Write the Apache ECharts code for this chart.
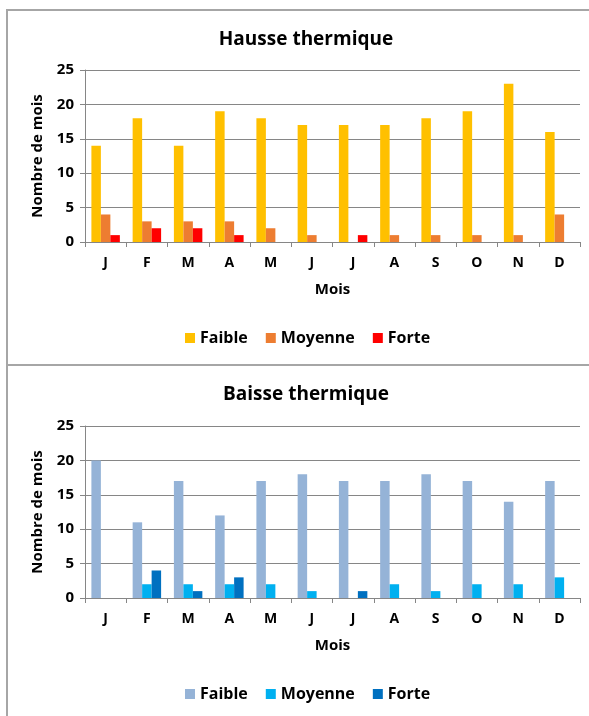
<!DOCTYPE html>
<html>
<head>
<meta charset="utf-8">
<script src="https://cdn.jsdelivr.net/npm/echarts@6/dist/echarts.min.js"></script>
<style>
  html, body { margin: 0; padding: 0; background: #fff; }
  #wrap { position: relative; width: 589px; height: 716px; }
  .chart { position: absolute; left: 0; width: 589px; }
  #hausse { top: 0; height: 364px; }
  #baisse { top: 364px; height: 352px; }
  .line { position: absolute; background: #a6a6a6; }
</style>
</head>
<body>
<div id="wrap">
  <div id="hausse" class="chart"></div>
  <div id="baisse" class="chart"></div>
  <div class="line" style="left:6px;top:9px;width:583px;height:2px;"></div>
  <div class="line" style="left:6px;top:9px;width:2px;height:355px;"></div>
  <div class="line" style="left:6px;top:364px;width:583px;height:2px;"></div>
  <div class="line" style="left:6px;top:364px;width:2px;height:352px;"></div>
</div>
<script>
var mois = ["J", "F", "M", "A", "M", "J", "J", "A", "S", "O", "N", "D"];
var classes = ["Faible", "Moyenne", "Forte"];

var hausseFaible = [14, 18, 14, 19, 18, 17, 17, 17, 18, 19, 23, 16];
var hausseMoyenne = [4, 3, 3, 3, 2, 1, 0, 1, 1, 1, 1, 4];
var hausseForte = [1, 2, 2, 1, 0, 0, 1, 0, 0, 0, 0, 0];

var baisseFaible = [20, 11, 17, 12, 17, 18, 17, 17, 18, 17, 14, 17];
var baisseMoyenne = [0, 2, 2, 2, 2, 1, 0, 2, 1, 2, 2, 3];
var baisseForte = [0, 4, 1, 3, 0, 0, 1, 0, 0, 0, 0, 0];

var hausseColors = ["#FFC000", "#ED7D31", "#FF0000"];
var baisseColors = ["#95B3D7", "#00B0F0", "#0070C0"];

var font = "'Open Sans', 'Liberation Sans', sans-serif";

function makeChart(id, titre, values, colors, layout) {
  var chart = echarts.init(document.getElementById(id));
  var series = values.map(function (d, i) {
    return {
      name: classes[i],
      type: "bar",
      data: d,
      barGap: "0%",
      barCategoryGap: "31%",
      itemStyle: { color: colors[i] },
    };
  });
  chart.setOption({
    animation: false,
    color: colors,
    textStyle: { fontFamily: font },
    title: {
      text: titre,
      left: 301,
      textAlign: "center",
      top: layout.titleTop,
      textStyle: { fontFamily: font, fontSize: 19, fontWeight: "bold", color: "#000" },
    },
    legend: {
      data: classes,
      left: 180,
      top: layout.legendTop,
      itemWidth: 10,
      itemHeight: 10,
      itemGap: 18,
      icon: "rect",
      textStyle: { fontFamily: font, fontSize: 16, fontWeight: "bold", color: "#000" },
    },
    grid: { left: 85, right: 9, top: layout.gridTop, bottom: layout.gridBottom },
    xAxis: {
      type: "category",
      data: mois,
      name: "Mois",
      nameLocation: "middle",
      nameGap: 40,
      nameTextStyle: { fontFamily: font, fontSize: 15, fontWeight: "bold", color: "#000" },
      axisLine: { lineStyle: { color: "#868686", width: 1 } },
      axisTick: { show: true, length: 5, lineStyle: { color: "#868686" } },
      axisLabel: { margin: 14, fontFamily: font, fontSize: 14, fontWeight: "bold", color: "#000" },
    },
    yAxis: {
      type: "value",
      min: 0,
      max: 25,
      interval: 5,
      name: "Nombre de mois",
      nameLocation: "middle",
      nameGap: 40,
      nameTextStyle: { fontFamily: font, fontSize: 15, fontWeight: "bold", color: "#000" },
      axisLine: { show: true, lineStyle: { color: "#868686", width: 1 } },
      axisTick: { show: true, length: 5, lineStyle: { color: "#868686" } },
      axisLabel: { margin: 11, fontFamily: font, fontSize: 15, fontWeight: "bold", color: "#000" },
      splitLine: { lineStyle: { color: "#868686", width: 1 } },
    },
    series: series,
  });
}

makeChart("hausse", "Hausse thermique", [hausseFaible, hausseMoyenne, hausseForte], hausseColors,
  { titleTop: 25, legendTop: 325, gridTop: 70, gridBottom: 122 });
makeChart("baisse", "Baisse thermique", [baisseFaible, baisseMoyenne, baisseForte], baisseColors,
  { titleTop: 16, legendTop: 317, gridTop: 62, gridBottom: 118 });
</script>
</body>
</html>
